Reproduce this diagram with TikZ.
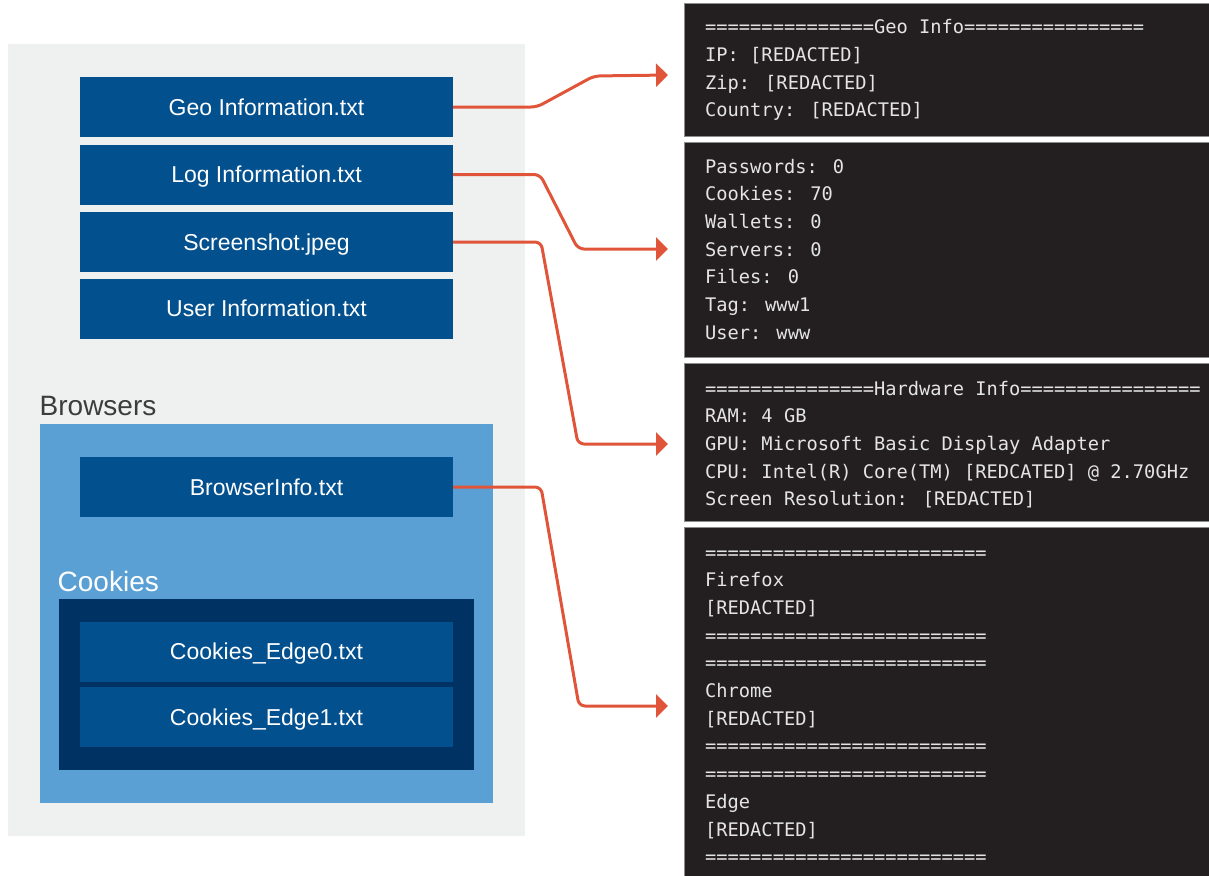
\documentclass[tikz,border=0pt]{standalone}
\usepackage{fontspec}
\setmainfont{Liberation Sans}
\newfontfamily\termfont{DejaVu Sans Mono}
\usetikzlibrary{arrows.meta}
\definecolor{panelgray}{HTML}{EFF1F1}
\definecolor{fileblue}{HTML}{03508F}
\definecolor{lightblue}{HTML}{5AA0D4}
\definecolor{navy}{HTML}{003364}
\definecolor{term}{HTML}{231F20}
\definecolor{termedge}{HTML}{8C8C8C}
\definecolor{termtext}{HTML}{E4E4E4}
\definecolor{arrowred}{HTML}{E0553A}
\definecolor{labelgray}{HTML}{3C3C3C}
\tikzset{
  filebox/.style={fill=fileblue, text=white, minimum width=373pt, minimum height=60pt,
    inner sep=0pt, font=\fontsize{23pt}{27pt}\selectfont, text height=16.5pt, text depth=0pt},
  region/.style={inner sep=0pt, anchor=north west},
  termpanel/.style={region, fill=term, draw=termedge, line width=1pt, minimum width=525pt},
  termlines/.style={text=termtext, anchor=base west, align=left, inner sep=0pt,
    font=\termfont\fontsize{18.7pt}{27.7pt}\selectfont},
  flow/.style={draw=arrowred, line width=3pt, rounded corners=6pt,
    -{Triangle[length=12pt,width=23pt]}},
  grouplabel/.style={anchor=base west, inner sep=0pt, font=\fontsize{28pt}{32pt}\selectfont}
}
\begin{document}
\begin{tikzpicture}[x=1pt,y=-1pt]
\useasboundingbox (0,0) rectangle (1209,875);
% left side containers
\node[region, fill=panelgray, minimum width=517pt, minimum height=792pt] (mainpanel) at (8,44) {};
\node[region, fill=lightblue, minimum width=453pt, minimum height=379pt] (browserspanel) at (40,424) {};
\node[region, fill=navy, minimum width=415pt, minimum height=171pt] (cookiespanel) at (59,599) {};
\node[grouplabel, text=labelgray] (browserslbl) at (39.5,415) {Browsers};
\node[grouplabel, text=white] (cookieslbl) at (57.5,591) {Cookies};
% file boxes
\node[filebox] (geo) at (266.5,107) {Geo Information.txt};
\node[filebox] (log) at (266.5,174.5) {Log Information.txt};
\node[filebox] (shot) at (266.5,242) {Screenshot.jpeg};
\node[filebox] (user) at (266.5,308.5) {User Information.txt};
\node[filebox] (binfo) at (266.5,487) {BrowserInfo.txt};
\node[filebox] (edge0) at (266.5,651.5) {Cookies\_Edge0.txt};
\node[filebox] (edge1) at (266.5,717) {Cookies\_Edge1.txt};
% terminal panels
\node[termpanel, minimum height=133pt] (p1) at (684,3) {};
\node[termpanel, minimum height=215pt] (p2) at (684,142) {};
\node[termpanel, minimum height=158pt] (p3) at (684,363) {};
\node[termpanel, minimum height=350pt] (p4) at (684,527) {};
% (anchor = baseline of the last line)
\node[termlines] (geotext) at (705,116.9) {===============Geo Info================\\IP: [REDACTED]\\Zip: [REDACTED]\\Country: [REDACTED]};
\node[termlines] (logtext) at (705,339.2) {Passwords: 0\\Cookies: 70\\Wallets: 0\\Servers: 0\\Files: 0\\Tag: www1\\User: www};
\node[termlines] (hwtext) at (705,505.8) {===============Hardware Info================\\RAM: 4 GB\\GPU: Microsoft Basic Display Adapter\\CPU: Intel(R) Core(TM) [REDCATED] @ 2.70GHz\\Screen Resolution: [REDACTED]};
\node[termlines] (brtext) at (705,863.7) {=========================\\Firefox\\{[}REDACTED{]}\\=========================\\=========================\\Chrome\\{[}REDACTED{]}\\=========================\\=========================\\Edge\\{[}REDACTED{]}\\=========================};
% arrow end points
\coordinate (t1) at (668,75);
\coordinate (t2) at (668,249);
\coordinate (t3) at (668,444);
\coordinate (t4) at (668,706);
\draw[flow] (geo.east) -- (537,107) -- (594,76) -- (t1);
\draw[flow] (log.east) -- (540,174.5) -- (578,249) -- (t2);
\draw[flow] (shot.east) -- (541,242) -- (578,444) -- (t3);
\draw[flow] (binfo.east) -- (541,487) -- (579,706) -- (t4);
\end{tikzpicture}
\end{document}
